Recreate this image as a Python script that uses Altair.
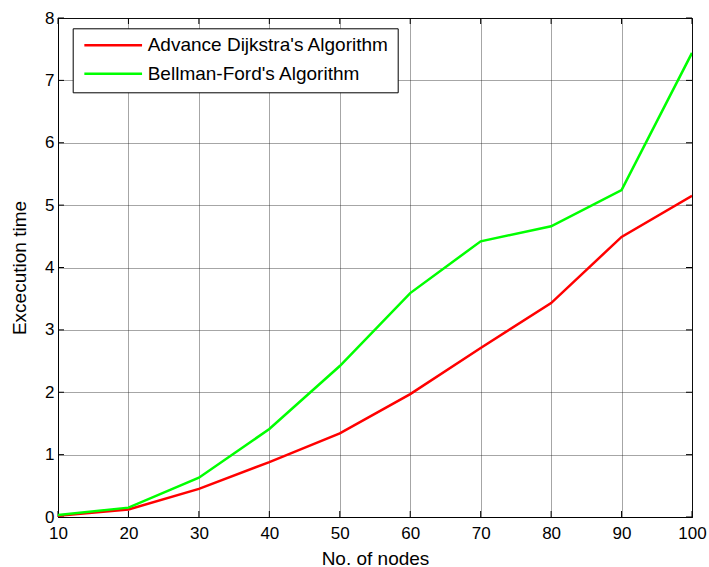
import altair as alt
import pandas as pd

# ---- data ----
nodes = [10, 20, 30, 40, 50, 60, 70, 80, 90, 100]
dijkstra = [0.02, 0.12, 0.45, 0.88, 1.34, 1.97, 2.71, 3.43, 4.49, 5.15]
bellman = [0.03, 0.15, 0.63, 1.41, 2.42, 3.59, 4.42, 4.66, 5.24, 7.44]
series_names = ["Advance Dijkstra's Algorithm", "Bellman-Ford's Algorithm"]
series_colors = ["#ff0000", "#00ff00"]
x_ticks = [10, 20, 30, 40, 50, 60, 70, 80, 90, 100]
y_ticks = [0, 1, 2, 3, 4, 5, 6, 7, 8]

W, H = 634, 499
FONT = "Liberation Sans"

df = pd.DataFrame({
    "nodes": nodes + nodes,
    "time": dijkstra + bellman,
    "series": [series_names[0]] * len(nodes) + [series_names[1]] * len(nodes),
})
xt = pd.DataFrame({"nodes": x_ticks})
yt = pd.DataFrame({"time": y_ticks})

x_scale = alt.Scale(domain=[10, 100], nice=False, zero=False)
y_scale = alt.Scale(domain=[0, 8], nice=False, zero=False)

x_axis = alt.Axis(values=x_ticks, title="No. of nodes", grid=True,
                  tickSize=0, labelPadding=8, labelFontSize=17,
                  titleFontSize=19, titleFontWeight="normal",
                  titleY=47, titleBaseline="alphabetic",
                  labelFlush=False)
y_axis = alt.Axis(values=y_ticks, title="Excecution time", grid=True,
                  tickSize=0, labelPadding=4, labelFontSize=17,
                  titleFontSize=19, titleFontWeight="normal",
                  titleX=-39, titleY=H / 2, titleAngle=-90,
                  titleBaseline="middle", titleAlign="center",
                  labelFlush=False)

lines = alt.Chart(df).mark_line(strokeWidth=2.5, clip=True).encode(
    x=alt.X("nodes:Q", scale=x_scale, axis=x_axis),
    y=alt.Y("time:Q", scale=y_scale, axis=y_axis),
    color=alt.Color("series:N",
                    scale=alt.Scale(domain=series_names, range=series_colors),
                    legend=alt.Legend(title=None, orient="none",
                                      legendX=14.7, legendY=10.3,
                                      symbolType="stroke", symbolSize=3330,
                                      symbolStrokeWidth=2.5,
                                      symbolOffset=2,
                                      clipHeight=18, rowPadding=9.4,
                                      labelOffset=4, labelFontSize=19,
                                      labelLimit=0,
                                      labelFont=FONT, labelColor="black",
                                      padding=8, fillColor="white",
                                      strokeColor="black")),
)

tick_b = alt.Chart(xt).mark_rule(color="black", strokeWidth=1).encode(
    x=alt.X("nodes:Q", scale=x_scale, axis=x_axis),
    y=alt.value(H), y2=alt.value(H - 6))
tick_t = alt.Chart(xt).mark_rule(color="black", strokeWidth=1).encode(
    x=alt.X("nodes:Q", scale=x_scale, axis=x_axis),
    y=alt.value(0), y2=alt.value(6))
tick_l = alt.Chart(yt).mark_rule(color="black", strokeWidth=1).encode(
    y=alt.Y("time:Q", scale=y_scale, axis=y_axis),
    x=alt.value(0), x2=alt.value(6))
tick_r = alt.Chart(yt).mark_rule(color="black", strokeWidth=1).encode(
    y=alt.Y("time:Q", scale=y_scale, axis=y_axis),
    x=alt.value(W), x2=alt.value(W - 6))

chart = alt.layer(tick_b, tick_t, tick_l, tick_r, lines).properties(
    width=W, height=H,
    autosize=alt.AutoSizeParams(type="none"),
    padding={"left": 58, "top": 18, "right": 17, "bottom": 50},
    background="white",
).configure_view(
    stroke="black", strokeWidth=1,
).configure_axis(
    domainColor="black", domainWidth=1,
    gridColor="#222222", gridDash=[1, 1], gridWidth=1, gridOpacity=0.8,
    labelFont=FONT, titleFont=FONT, labelColor="black", titleColor="black",
).configure_legend(
    labelFont=FONT,
)

chart.save("out.html", embed_options={"renderer": "svg", "actions": False})
